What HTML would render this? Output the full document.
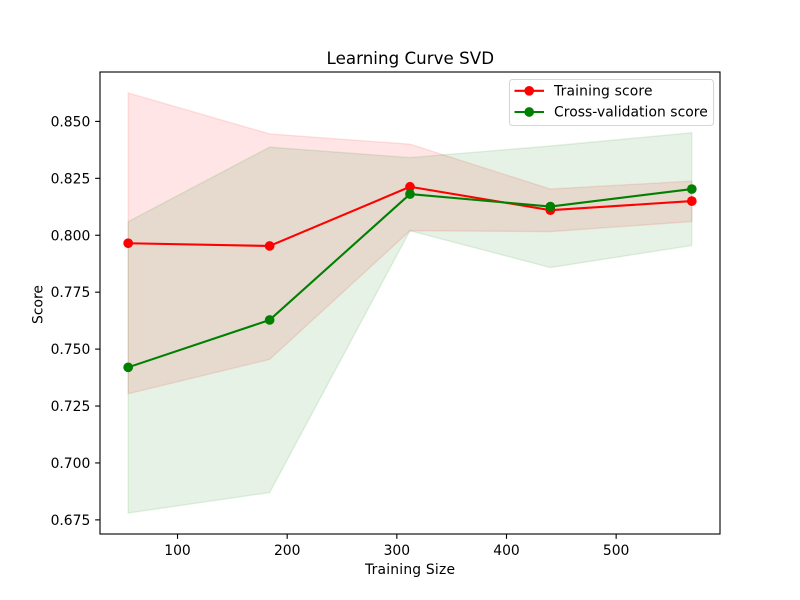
<!DOCTYPE html>
<html lang="en">
<head>
<meta charset="utf-8">
<title>Learning Curve SVD</title>
<style>
  html, body { margin: 0; padding: 0; background: #fff; }
  svg { display: block; }
  text { font-family: "DejaVu Sans", "Liberation Sans", sans-serif; fill: #000; }
</style>
</head>
<body>
<svg id="chart" xmlns="http://www.w3.org/2000/svg" width="800" height="600" viewBox="0 0 800 600">
  <rect x="0" y="0" width="800" height="600" fill="#fff"/>
  <rect x="100" y="72" width="620" height="462" fill="#fff"/>
  <g id="bands"></g>
  <g id="series"></g>
  <g id="x-axis"></g>
  <g id="y-axis"></g>
  <rect x="100" y="72" width="620" height="462" fill="none" stroke="#000" stroke-width="1.11"/>
  <text x="410.3" y="64" font-size="16.67" text-anchor="middle" textLength="167.5" lengthAdjust="spacing">Learning Curve SVD</text>
  <text x="410" y="574" font-size="13.89" text-anchor="middle" textLength="90" lengthAdjust="spacing">Training Size</text>
  <text transform="translate(42.5 304.5) rotate(-90)" font-size="13.89" text-anchor="middle">Score</text>
  <g>
    <rect x="509.5" y="79.5" width="204" height="46" rx="3" ry="3" fill="#fff" fill-opacity="0.8" stroke="#ccc" stroke-opacity="0.8" stroke-width="1.11"/>
    <g>
      <line x1="514.5" y1="90.8" x2="544" y2="90.8" stroke="#ff0000" stroke-width="2.08"/>
      <circle cx="529.2" cy="90.8" r="4.85" fill="#ff0000"/>
      <text x="554" y="95.4" font-size="13.89" textLength="98.5" lengthAdjust="spacing">Training score</text>
    </g>
    <g>
      <line x1="514.5" y1="112" x2="544" y2="112" stroke="#008000" stroke-width="2.08"/>
      <circle cx="529.2" cy="112" r="4.85" fill="#008000"/>
      <text x="554" y="116.4" font-size="13.89" textLength="153.8" lengthAdjust="spacing">Cross-validation score</text>
    </g>
  </g>
</svg>
<script>
const trainingSizes = [55, 184, 312, 440, 569];
const trainMean = [0.7965, 0.7953, 0.8213, 0.8110, 0.8150];
const trainUpper = [0.8625, 0.8445, 0.8400, 0.8203, 0.8238];
const trainLower = [0.7304, 0.7455, 0.8020, 0.8016, 0.8060];
const cvMean = [0.7420, 0.7628, 0.8181, 0.8126, 0.8203];
const cvUpper = [0.8060, 0.8387, 0.8341, 0.8392, 0.8450];
const cvLower = [0.6780, 0.6870, 0.8020, 0.7858, 0.7955];
const xTickValues = [100, 200, 300, 400, 500];
const yTickValues = [0.675, 0.700, 0.725, 0.750, 0.775, 0.800, 0.825, 0.850];

const NS = 'http://www.w3.org/2000/svg';
const plotLeft = 100, plotRight = 720, plotTop = 72, plotBottom = 534;
const xMin = 29.3, xMax = 594.7;
const yMin = 0.6688, yMax = 0.8717;

function xScale(v) { return plotLeft + (v - xMin) / (xMax - xMin) * (plotRight - plotLeft); }
function yScale(v) { return plotBottom - (v - yMin) / (yMax - yMin) * (plotBottom - plotTop); }
function make(tag, attrs) {
  const el = document.createElementNS(NS, tag);
  for (const k in attrs) el.setAttribute(k, attrs[k]);
  return el;
}

const bands = document.getElementById('bands');
const series = document.getElementById('series');
const xAxis = document.getElementById('x-axis');
const yAxis = document.getElementById('y-axis');

function drawBand(name, upper, lower, color) {
  const pts = [];
  trainingSizes.forEach(function (s, i) { pts.push(xScale(s).toFixed(2) + ',' + yScale(upper[i]).toFixed(2)); });
  for (let i = trainingSizes.length - 1; i >= 0; i--) {
    pts.push(xScale(trainingSizes[i]).toFixed(2) + ',' + yScale(lower[i]).toFixed(2));
  }
  const poly = make('polygon', { points: pts.join(' '), fill: color, 'fill-opacity': 0.1, stroke: color, 'stroke-opacity': 0.1, 'stroke-width': 1.39 });
  
  
  bands.appendChild(poly);
}

function drawSeries(name, values, color) {
  const pts = trainingSizes.map(function (s, i) { return xScale(s).toFixed(2) + ',' + yScale(values[i]).toFixed(2); });
  const line = make('polyline', { points: pts.join(' '), fill: 'none', stroke: color, 'stroke-width': 2.08, 'stroke-linejoin': 'round' });
  
  
  series.appendChild(line);
  trainingSizes.forEach(function (s, i) {
    const dot = make('circle', { cx: xScale(s).toFixed(2), cy: yScale(values[i]).toFixed(2), r: 4.85, fill: color });
    
    
    series.appendChild(dot);
  });
}

drawBand('training-score-band', trainUpper, trainLower, '#ff0000');
drawBand('cross-validation-score-band', cvUpper, cvLower, '#008000');
drawSeries('training-score', trainMean, '#ff0000');
drawSeries('cross-validation-score', cvMean, '#008000');

xTickValues.forEach(function (v) {
  const x = xScale(v);
  const tick = make('line', { x1: x, y1: plotBottom, x2: x, y2: plotBottom + 4.86, stroke: '#000', 'stroke-width': 1.11 });
  
  
  xAxis.appendChild(tick);
  const label = make('text', { x: x, y: 555, 'font-size': 13.89, 'text-anchor': 'middle' });
  
  
  label.textContent = String(v);
  xAxis.appendChild(label);
});

yTickValues.forEach(function (v) {
  const y = yScale(v);
  const tick = make('line', { x1: plotLeft - 4.86, y1: y, x2: plotLeft, y2: y, stroke: '#000', 'stroke-width': 1.11 });
  
  
  yAxis.appendChild(tick);
  const label = make('text', { x: plotLeft - 9.7, y: y + 5, 'font-size': 13.89, 'text-anchor': 'end' });
  
  
  label.textContent = v.toFixed(3);
  yAxis.appendChild(label);
});
</script>
</body>
</html>
